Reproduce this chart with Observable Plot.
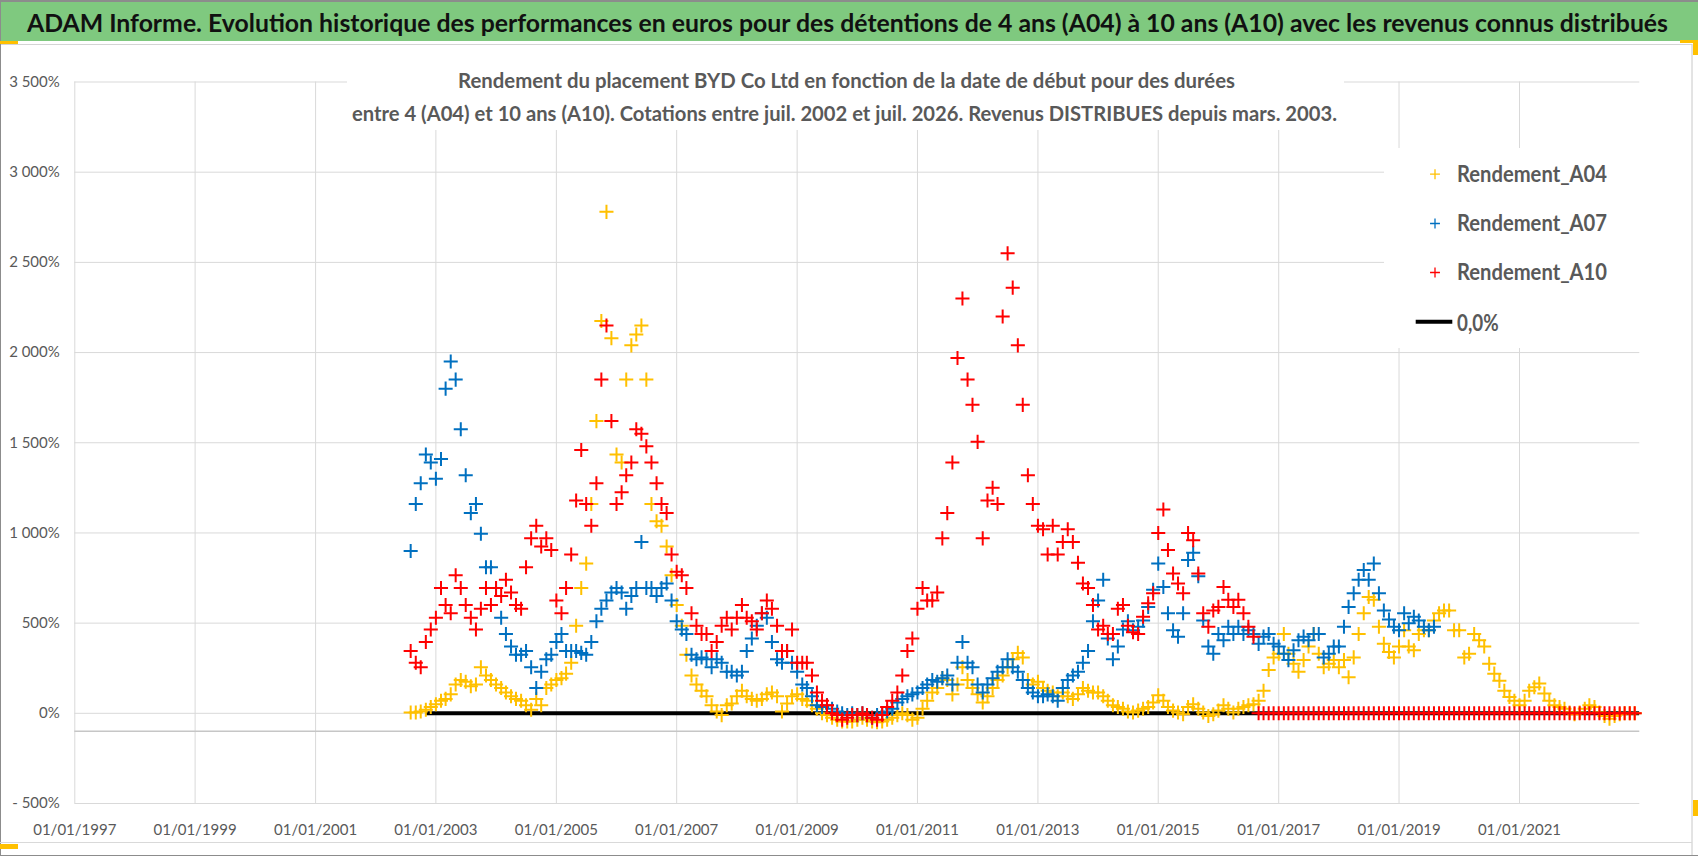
<!DOCTYPE html>
<html lang="fr">
<head>
<meta charset="utf-8">
<title>BYD Co Ltd – Rendement A04 / A07 / A10</title>
<script src="https://cdn.jsdelivr.net/npm/d3@7"></script>
<script src="https://cdn.jsdelivr.net/npm/@observablehq/plot@0.6"></script>
<style>
html,body{margin:0;padding:0;background:#fff;}
#chart{position:relative;width:1698px;height:856px;overflow:hidden;background:#fff;}
#chart svg{display:block;}
</style>
</head>
<body>
<div id="chart"></div>
<script>
// ---------- texts ----------
const titleText = "ADAM Informe. Evolution historique des performances en euros pour des détentions de 4 ans (A04) à 10 ans (A10) avec les revenus connus distribués";
const subtitleLines = [
  "Rendement du placement BYD Co Ltd en fonction de la date de début pour des durées",
  "entre 4 (A04) et 10 ans (A10). Cotations entre juil. 2002 et juil. 2026. Revenus DISTRIBUES depuis mars. 2003."
];
const seriesNames = ["Rendement_A04", "Rendement_A07", "Rendement_A10"];
const zeroName = "0,0%";
const seriesColors = ["#FFC000", "#0070C0", "#FF0000"];

// ---------- data (monthly readings, %, starting Aug 2002) ----------
const firstMonth = "2002-08-01";
const A04 = [
  5, 5, 10, 20, 35,                                           // 2002
  50, 70, 80, 105, 160, 185, 175, 150, 160, 255, 210, 185,    // 2003
  160, 140, 115, 95, 80, 70, 45, 20, 80, 45, 140, 160,        // 2004
  185, 195, 220, 280, 485, 695, 830, 1160, 1620, 2175, 2780, 2080, // 2005
  1435, 1390, 1850, 2040, 2100, 2150, 1850, 1160, 1065, 1040, 925, 765, // 2006
  600, 485, 325, 210, 160, 125, 95, 45, 10, -10, 45, 55,      // 2007
  95, 125, 95, 80, 70, 80, 105, 115, 95, 10, 55, 95,          // 2008
  105, 80, 70, 45, 25, 0, -10, -25, -35, -45, -45, -45,       // 2009
  -35, -25, -35, -45, -50, -45, -35, -25, -10, 0, -10, -35,   // 2010
  -25, 25, 70, 115, 140, 195, 185, 105, 160, 255, 185, 140,   // 2011
  105, 60, 95, 140, 185, 210, 255, 300, 335, 310, 185, 160,   // 2012
  175, 140, 125, 115, 95, 115, 95, 80, 105, 140, 125, 115,    // 2013
  115, 95, 70, 45, 35, 25, 10, 5, 15, 25, 35, 60,             // 2014
  100, 70, 35, 15, 5, -5, 35, 50, 25, 5, -15, -5,             // 2015
  15, 45, 25, 5, 25, 35, 45, 50, 70, 125, 240, 310,           // 2016
  330, 440, 330, 275, 230, 295, 370, 440, 330, 255, 275, 295, // 2017
  255, 295, 200, 310, 440, 555, 645, 630, 480, 385, 340, 310, // 2018
  370, 460, 370, 350, 440, 460, 460, 515, 555, 570, 570, 460, // 2019
  460, 310, 330, 440, 405, 370, 275, 220, 180, 125, 90, 70,   // 2020
  45, 70, 125, 145, 165, 110, 70, 45, 35, 25, 5, -5,          // 2021
  5, 25, 45, 35, 5, -15, -30, -15, -5, 0, 0, 0                // 2022
];
const A07 = [
  900, 1160, 1275, 1435, 1390,                                // 2002
  1300, 1410, 1800, 1950, 1850, 1575, 1320, 1110, 1160, 995, 810, 810, // 2003
  695, 530, 440, 370, 325, 325, 345, 255, 140, 230, 300, 325, // 2004
  395, 440, 345, 345, 345, 335, 325, 395, 510, 580, 625, 670, // 2005
  695, 670, 580, 650, 695, 950, 695, 695, 650, 695, 720, 625, // 2006
  510, 465, 440, 325, 300, 310, 300, 255, 300, 280, 230, 230, // 2007
  210, 230, 345, 415, 485, 555, 530, 395, 300, 280, 345, 280, // 2008
  230, 160, 140, 95, 45, 35, 45, 25, 10, 0, -10, 0,           // 2009
  -10, 0, -10, -25, -10, 0, 10, 25, 60, 80, 95, 105,          // 2010
  115, 140, 160, 185, 175, 195, 210, 160, 280, 395, 280, 255, // 2011
  160, 115, 160, 195, 230, 255, 300, 255, 230, 185, 140, 115, // 2012
  95, 95, 105, 95, 70, 140, 185, 210, 230, 280, 345, 510,     // 2013
  625, 740, 415, 300, 370, 465, 510, 460, 480, 515, 590, 685, // 2014
  830, 700, 555, 460, 425, 555, 850, 890, 760, 515, 370, 330, // 2015
  440, 405, 480, 440, 480, 440, 460, 440, 385, 425, 440, 385, // 2016
  370, 330, 295, 350, 405, 425, 405, 440, 440, 310, 330, 370, // 2017
  370, 480, 590, 665, 740, 795, 740, 830, 665, 570, 520, 480, // 2018
  460, 555, 500, 535, 515, 480, 460, 480                      // 2019
];
const A10 = [
  345, 280, 255, 395, 465,                                    // 2002
  530, 695, 600, 555, 765, 695, 600, 530, 465, 580, 695, 600, // 2003
  695, 650, 740, 670, 600, 580, 810, 970, 1040, 925, 970, 905, // 2004
  625, 555, 695, 880, 1180, 1460, 1160, 1040, 1275, 1850, 2150, 1620, // 2005
  1160, 1225, 1320, 1390, 1575, 1550, 1480, 1390, 1275, 1160, 1110, 880, // 2006
  785, 765, 695, 555, 485, 440, 440, 345, 395, 485, 530, 465, // 2007
  530, 600, 530, 510, 465, 555, 625, 580, 485, 345, 345, 465, // 2008
  280, 280, 280, 210, 115, 70, 45, 0, -10, -35, -25, -10,     // 2009
  -10, 0, -10, -25, -35, -10, 35, 70, 115, 210, 345, 415,     // 2010
  580, 695, 625, 625, 670, 970, 1110, 1390, 1970, 2300, 1850, 1710, // 2011
  1505, 970, 1180, 1250, 1160, 2200, 2550, 2360, 2040, 1710, 1320, 1160, // 2012
  1040, 1020, 880, 1040, 880, 950, 1020, 950, 835, 720, 695, 600, // 2013
  465, 485, 440, 440, 580, 600, 485, 450, 440, 535, 610, 665, // 2014
  1000, 1130, 905, 775, 720, 665, 1000, 960, 775, 555, 480, 570, // 2015
  590, 700, 630, 590, 630, 555, 480, 425, 0, 0, 0, 0,         // 2016
  0, 0, 0, 0, 0, 0, 0, 0, 0, 0, 0, 0,                         // 2017
  0, 0, 0, 0, 0, 0, 0, 0, 0, 0, 0, 0,                         // 2018
  0, 0, 0, 0, 0, 0, 0, 0, 0, 0, 0, 0,                         // 2019
  0, 0, 0, 0, 0, 0, 0, 0, 0, 0, 0, 0,                         // 2020
  0, 0, 0, 0, 0, 0, 0, 0, 0, 0, 0, 0,                         // 2021
  0, 0, 0, 0, 0, 0, 0, 0, 0, 0, 0, 0                          // 2022
];
const zeroLineSpan = ["2002-11-01", "2022-12-31"];

// ---------- axes ----------
const xDomain = ["1997-01-01", "2023-01-01"];
const xTickYears = [1997, 1999, 2001, 2003, 2005, 2007, 2009, 2011, 2013, 2015, 2017, 2019, 2021];
const yTicks = [-500, 0, 500, 1000, 1500, 2000, 2500, 3000, 3500];
const yTickLabels = ["- 500%", "0%", "500%", "1 000%", "1 500%", "2 000%", "2 500%", "3 000%", "3 500%"];

// ---------- build ----------
const utc = s => new Date(s + "T00:00:00Z");
const start = utc(firstMonth);
const rows = (vals, name) => vals.map((v, i) => ({date: d3.utcMonth.offset(start, i), value: v, series: name}));
const dA04 = rows(A04, seriesNames[0]);
const dA07 = rows(A07, seriesNames[1]);
const dA10 = rows(A10, seriesNames[2]);
const xTicks = xTickYears.map(y => new Date(Date.UTC(y, 0, 1)));
const fmtDate = d3.utcFormat("%d/%m/%Y");
const FONT = "Lato, 'Open Sans', 'Noto Sans', sans-serif";

const W = 1698, H = 856;
const dotOpts = (c) => ({x: "date", y: "value", symbol: "plus", r: 4.6, stroke: c, strokeWidth: 2});
const chart = Plot.plot({
  width: W,
  height: H,
  marginTop: 81.5,
  marginBottom: 53,
  marginLeft: 74.3,
  marginRight: 58.7,
  style: {fontFamily: FONT, fontSize: "15px", color: "#595959", background: "#ffffff"},
  x: {type: "utc", domain: xDomain.map(utc), label: null},
  y: {domain: [-500, 3500], label: null},
  marks: [
    Plot.gridY(yTicks, {stroke: "#d9d9d9", strokeOpacity: 1, strokeWidth: 1}),
    Plot.gridX(xTicks, {stroke: "#d9d9d9", strokeOpacity: 1, strokeWidth: 1}),
    Plot.ruleY([-100], {stroke: "#c6c6c6", strokeWidth: 1.5}),
    Plot.ruleY([0], {x1: () => utc(zeroLineSpan[0]), x2: () => utc(zeroLineSpan[1]), stroke: "#000000", strokeWidth: 4}),
    Plot.dot(dA04, dotOpts(seriesColors[0])),
    Plot.dot(dA07, dotOpts(seriesColors[1])),
    Plot.dot(dA10, dotOpts(seriesColors[2])),
    Plot.axisX(xTicks, {label: null, tickSize: 0, tickPadding: 21, tickFormat: fmtDate, fill: "#595959", fontSize: 15}),
    Plot.axisY(yTicks, {label: null, tickSize: 0, tickPadding: 15, tickFormat: d => yTickLabels[yTicks.indexOf(d)], fill: "#595959", fontSize: 15})
  ]
});
document.getElementById("chart").appendChild(chart);

// ---------- decorations: title bar, subtitle box, legend ----------
const svg = d3.select(chart);
const g = svg.append("g").attr("font-family", FONT).attr("text-anchor", "start");

// title bar
g.append("rect").attr("x", 0).attr("y", 0).attr("width", W).attr("height", 41).attr("fill", "#7fc97f");
g.append("rect").attr("x", 0).attr("y", 0).attr("width", W).attr("height", 2).attr("fill", "#8c8c8c");
g.append("line").attr("x1", 0).attr("x2", 1692).attr("y1", 44.5).attr("y2", 44.5).attr("stroke", "#d4d4d4");
g.append("text").attr("x", 27).attr("y", 32.3).attr("text-anchor", "start")
  .attr("font-size", 24).attr("font-weight", 700).attr("fill", "#111111")
  .attr("textLength", 1641).attr("lengthAdjust", "spacingAndGlyphs")
  .text(titleText);

// subtitle box (white, hides gridlines)
g.append("rect").attr("x", 347).attr("y", 47).attr("width", 997).attr("height", 83).attr("fill", "#ffffff");
const subPos = [{x: 458, y: 88.3, w: 777}, {x: 352, y: 121, w: 985}];
subtitleLines.forEach((s, i) => {
  g.append("text").attr("x", subPos[i].x).attr("y", subPos[i].y).attr("text-anchor", "start")
    .attr("font-size", 20).attr("font-weight", 700).attr("fill", "#595959")
    .attr("textLength", subPos[i].w).attr("lengthAdjust", "spacingAndGlyphs")
    .text(s);
});

// legend box
g.append("rect").attr("x", 1384).attr("y", 148).attr("width", 256).attr("height", 200).attr("fill", "#ffffff");
const legY = [181.7, 231, 280];
const plusPath = d3.symbol(d3.symbolPlus, 34)();
seriesNames.forEach((name, i) => {
  g.append("path").attr("d", plusPath)
    .attr("transform", `translate(1435,${legY[i] - 7.5})`)
    .attr("fill", "none").attr("stroke", seriesColors[i]).attr("stroke-width", 1.3);
  g.append("text").attr("x", 1457).attr("y", legY[i]).attr("text-anchor", "start")
    .attr("font-size", 22).attr("font-weight", 700).attr("fill", "#595959")
    .attr("textLength", 150).attr("lengthAdjust", "spacingAndGlyphs")
    .text(name);
});
g.append("line").attr("x1", 1415.7).attr("x2", 1452.3).attr("y1", 321.7).attr("y2", 321.7)
  .attr("stroke", "#000").attr("stroke-width", 4);
g.append("text").attr("x", 1457).attr("y", 330.5).attr("text-anchor", "start")
  .attr("font-size", 22).attr("font-weight", 700).attr("fill", "#595959")
  .attr("textLength", 41.6).attr("lengthAdjust", "spacingAndGlyphs")
  .text(zeroName);

// outer frame and sheet marks
g.append("line").attr("x1", 0.5).attr("x2", 0.5).attr("y1", 0).attr("y2", H).attr("stroke", "#8c8c8c");
g.append("line").attr("x1", 1692).attr("x2", 1692).attr("y1", 44).attr("y2", H).attr("stroke", "#c8c8c8");
g.append("line").attr("x1", 0).attr("x2", 1692).attr("y1", 842.5).attr("y2", 842.5).attr("stroke", "#d9d9d9");
g.append("line").attr("x1", 0).attr("x2", W).attr("y1", 855.5).attr("y2", 855.5).attr("stroke", "#8c8c8c");
g.append("rect").attr("x", 0).attr("y", 41).attr("width", 18).attr("height", 3).attr("fill", "#FFC000");
g.append("rect").attr("x", 0).attr("y", 844).attr("width", 18).attr("height", 5).attr("fill", "#FFC000");
g.append("rect").attr("x", 1680).attr("y", 40).attr("width", 18).attr("height", 3).attr("fill", "#FFC000");
g.append("rect").attr("x", 1693).attr("y", 40).attr("width", 5).attr("height", 15).attr("fill", "#FFC000");
g.append("rect").attr("x", 1693).attr("y", 800).attr("width", 5).attr("height", 16).attr("fill", "#FFC000");
</script>
</body>
</html>
